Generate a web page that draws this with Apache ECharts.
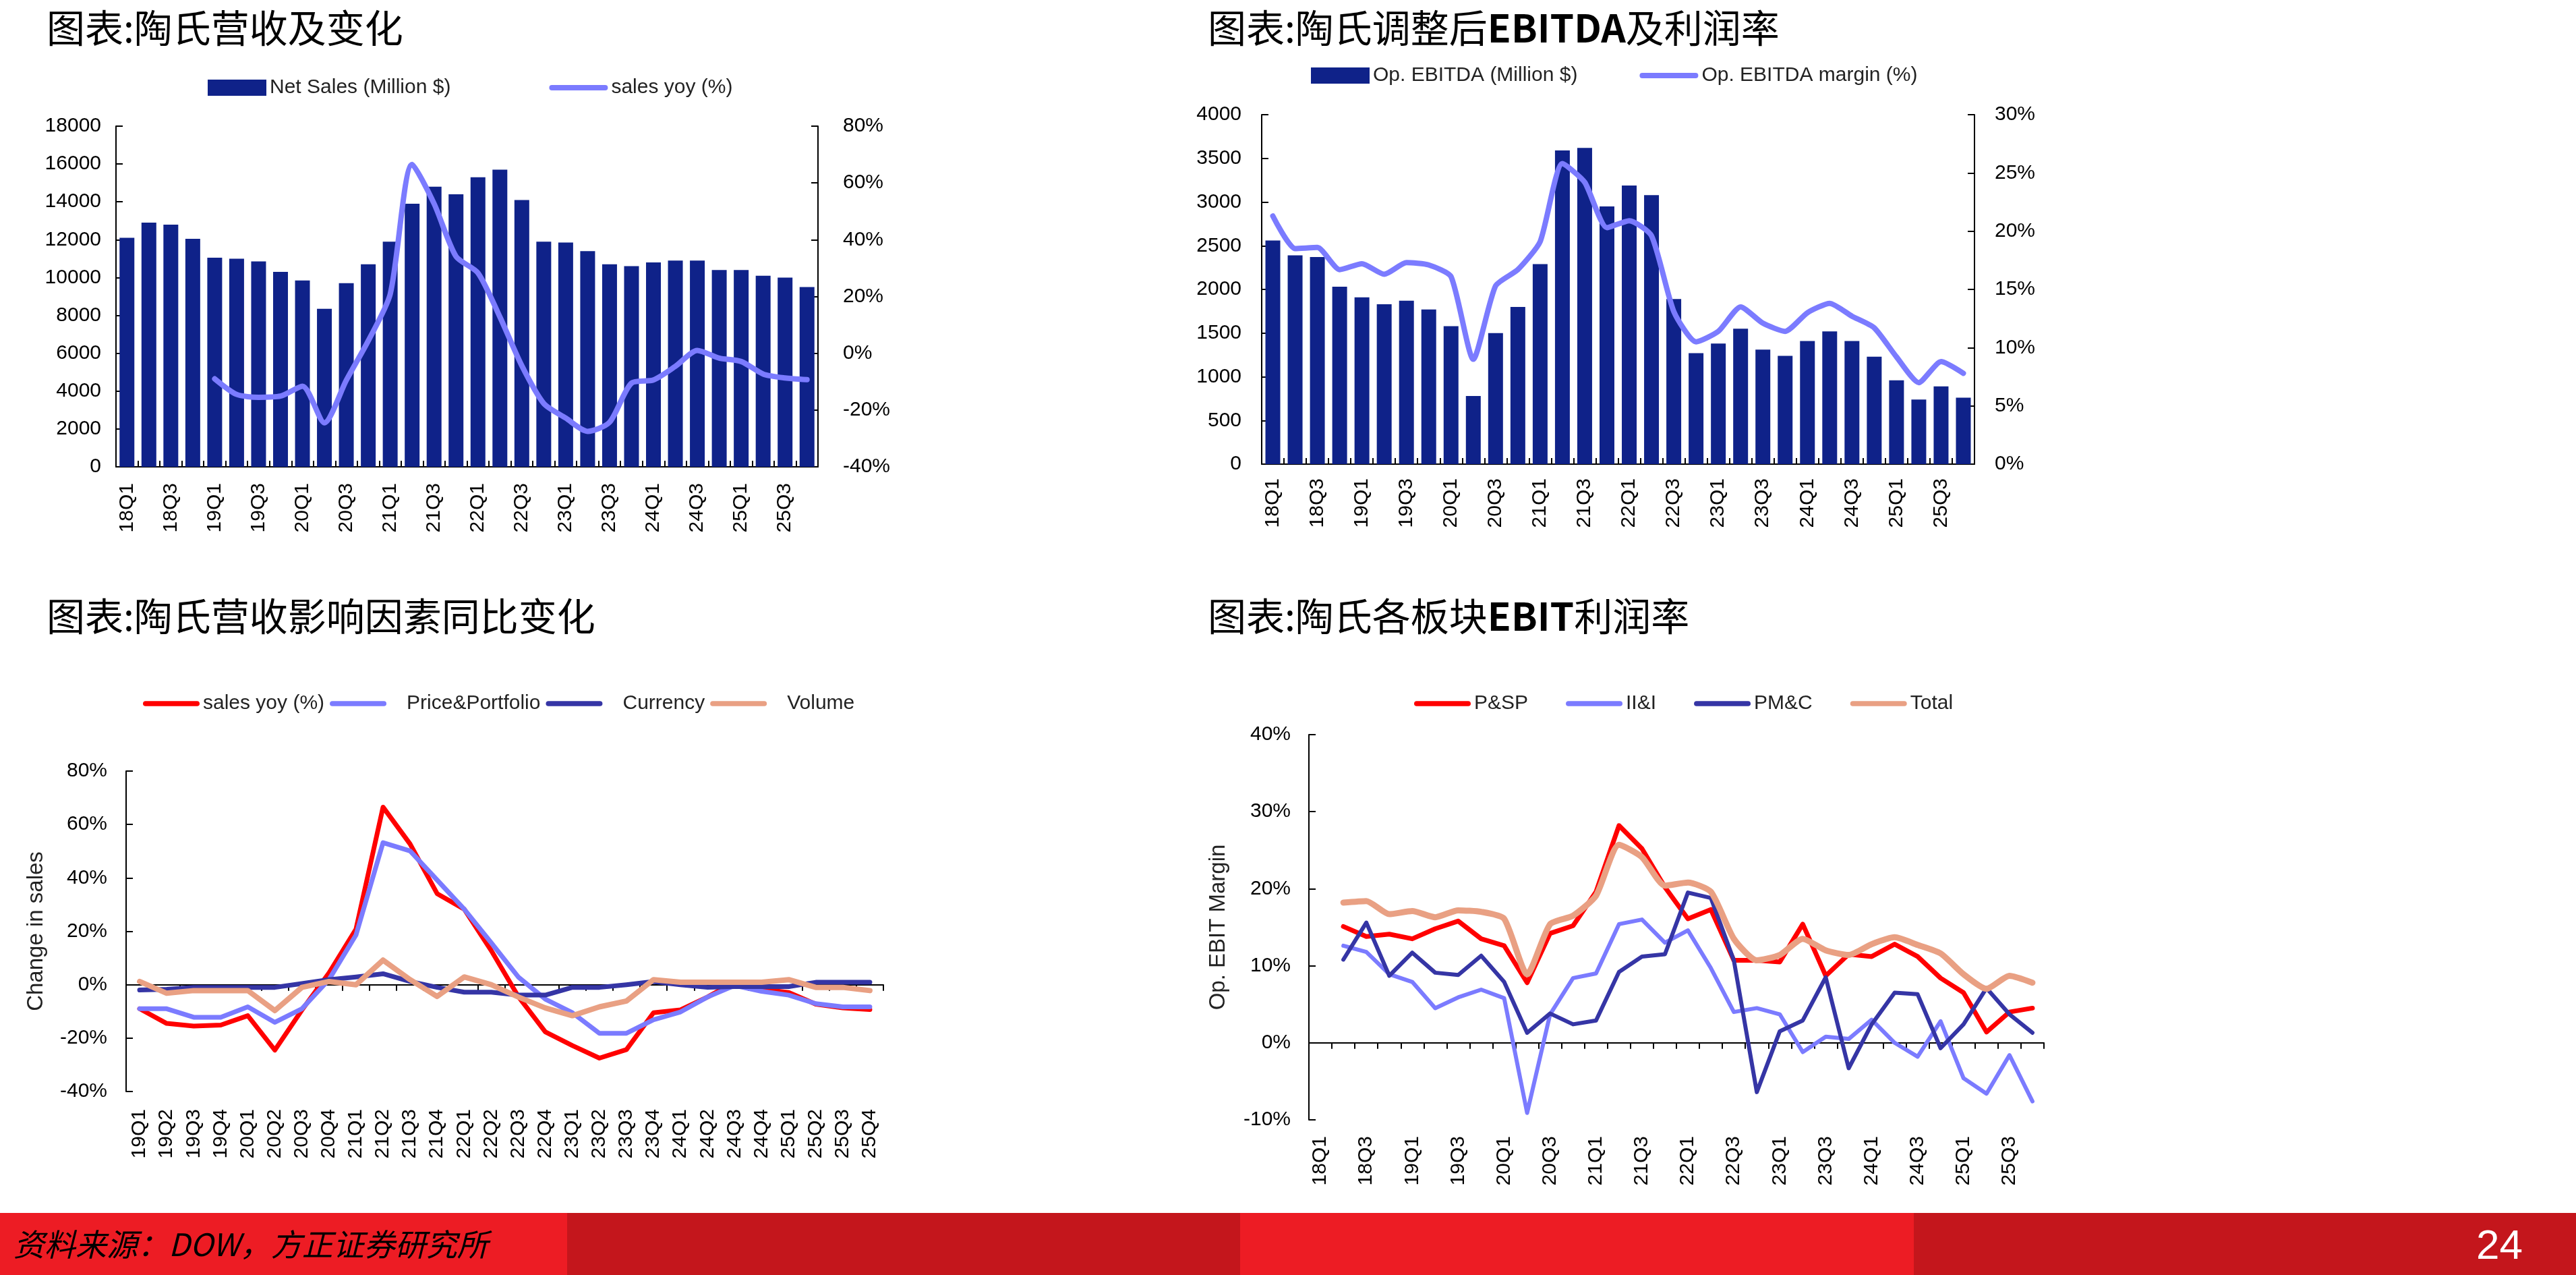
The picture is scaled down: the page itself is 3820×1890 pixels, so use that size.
<!DOCTYPE html>
<html>
<head>
<meta charset="utf-8">
<script src="https://cdn.jsdelivr.net/npm/echarts@6.0.0/dist/echarts.min.js"></script>
<style>
  html, body { margin: 0; padding: 0; background: #fff; }
  #main { width: 3820px; height: 1890px; }
</style>
</head>
<body>
<div id="main"></div>
<script>
// categories
const quarters = ['18Q1','18Q2','18Q3','18Q4','19Q1','19Q2','19Q3','19Q4',
  '20Q1','20Q2','20Q3','20Q4','21Q1','21Q2','21Q3','21Q4',
  '22Q1','22Q2','22Q3','22Q4','23Q1','23Q2','23Q3','23Q4',
  '24Q1','24Q2','24Q3','24Q4','25Q1','25Q2','25Q3','25Q4'];
const quarters19 = ['19Q1','19Q2','19Q3','19Q4','20Q1','20Q2','20Q3','20Q4',
  '21Q1','21Q2','21Q3','21Q4','22Q1','22Q2','22Q3','22Q4',
  '23Q1','23Q2','23Q3','23Q4','24Q1','24Q2','24Q3','24Q4',
  '25Q1','25Q2','25Q3','25Q4'];

// chart 1: net sales (million $) and yoy (%)
const netSales = [12100,12900,12800,12050,11050,11000,10850,10300,9850,8350,9700,10700,
  11900,13900,14800,14400,15300,15700,14100,11900,11850,11400,10700,10600,
  10800,10900,10900,10400,10400,10100,10000,9500];
// yoy from 19Q1
const salesYoy = [-9.0,-14.5,-15.5,-15.1,-11.6,-24.5,-9.5,4.4,20.8,66.5,52.7,34.1,
  28.3,12.8,-4.4,-17.7,-22.8,-27.5,-24.3,-10.5,-9.4,-4.6,1.0,-1.7,-2.9,-7.3,-8.7,-9.3];

// chart 2: op. EBITDA and margin
const ebitda = [2560,2390,2370,2030,1910,1830,1870,1770,1580,780,1500,1800,
  2290,3590,3620,2950,3190,3080,1890,1270,1380,1550,1310,1240,
  1410,1520,1410,1230,960,740,890,760];
const ebitdaMargin = [21.3,18.5,18.6,16.7,17.2,16.3,17.3,17.1,16.1,9.0,15.3,16.7,
  19.1,25.8,24.2,20.3,20.9,19.6,13.1,10.5,11.4,13.5,12.1,11.4,
  13.0,13.8,12.7,11.7,9.2,7.0,8.8,7.8];

// chart 3: drivers of sales change (%), 19Q1-25Q4
const pricePortfolio = [-9.0,-9.0,-12.2,-12.2,-8.3,-14.1,-9.0,1.9,18.6,53.2,50.1,39.2,
  28.3,15.7,2.9,-5.4,-10.5,-18.2,-18.2,-13.1,-10.2,-4.6,-0.3,-2.5,-3.9,-7.1,-8.3,-8.3];
const currency = [-2.0,-1.7,-1.0,-1.0,-1.0,-1.0,0.4,1.9,2.9,4.1,1.2,-1.0,
  -2.8,-2.8,-3.9,-3.9,-1.0,-1.0,0,1.2,0,-1.0,-0.7,-0.7,-0.7,0.9,0.9,0.9];
const volume = [1.2,-3.2,-2.2,-2.2,-2.2,-9.7,-1.0,1.2,0,9.2,1.9,-4.4,
  2.9,0,-4.6,-8.7,-11.6,-8.3,-6.1,1.9,0.9,0.9,0.9,0.9,1.9,-1.0,-1.0,-2.2];

// chart 4: segment EBIT margin (%)
const pssp = [null,15.1,13.8,14.1,13.5,14.8,15.8,13.5,12.6,7.8,14.2,15.2,
  19.6,28.2,25.2,20.2,16.1,17.3,10.7,10.7,10.5,15.4,8.7,11.5,
  11.2,12.8,11.2,8.4,6.5,1.4,4.0,4.5];
const iii = [null,12.6,11.8,8.9,7.9,4.5,5.9,6.9,5.8,-9.1,3.7,8.4,
  9.0,15.4,16.0,13.0,14.6,9.7,4.0,4.5,3.7,-1.2,0.8,0.5,
  3.0,0,-1.8,2.8,-4.6,-6.6,-1.6,-7.6];
const pmc = [null,10.8,15.6,8.7,11.7,9.1,8.8,11.3,7.9,1.3,3.8,2.4,
  2.9,9.2,11.2,11.5,19.5,18.8,10.7,-6.4,1.5,2.9,8.5,-3.3,
  2.4,6.5,6.3,-0.7,2.4,7.1,3.7,1.3];
const total = [null,18.2,18.4,16.7,17.1,16.3,17.2,17.0,16.1,8.9,15.4,16.5,
  19.1,25.7,24.1,20.4,20.8,19.6,13.5,10.7,11.4,13.5,12.0,11.4,
  12.8,13.7,12.7,11.6,8.9,7.0,8.7,7.8];

const NAVY = '#0F2289';
const LAVENDER = '#7B7BFF';
const RED = '#FF0000';
const DARK = '#3535A5';
const SALMON = '#E9A083';

const FONT = 'Liberation Sans, Arial, sans-serif';
const CJK = 'Noto Sans CJK SC';
const lineIcon = 'path://M4,0H84A4,4,0,0,1,84,8H4A4,4,0,0,1,4,0Z';

const chart = echarts.init(document.getElementById('main'));

const axisLine = { show: true, onZero: false, lineStyle: { color: '#000', width: 2 } };
const tickIn = { show: true, inside: true, length: 10, lineStyle: { color: '#000', width: 2 } };
const lab = { color: '#000', fontSize: 30, fontFamily: FONT };
const plain = function (v) { return String(v); };
const pct = function (v) { return v + '%'; };

function catAxis(grid, data, every, extra) {
  return Object.assign({
    type: 'category', gridIndex: grid, data: data, boundaryGap: true,
    axisLine: axisLine,
    axisTick: Object.assign({}, tickIn, { interval: 0, length: 9 }),
    axisLabel: Object.assign({}, lab, { rotate: 90, interval: every, margin: 24 }),
    splitLine: { show: false }
  }, extra || {});
}

function valAxis(grid, min, max, step, isPct, margin, extra) {
  return Object.assign({
    type: 'value', gridIndex: grid, min: min, max: max, interval: step,
    axisLine: axisLine, axisTick: tickIn,
    axisLabel: Object.assign({}, lab, { margin: margin, formatter: isPct ? pct : plain }),
    splitLine: { show: false }
  }, extra || {});
}

function line(name, data, color, width, xi, yi, smooth) {
  return {
    name: name, type: 'line', data: data, xAxisIndex: xi, yAxisIndex: yi,
    color: color, symbol: 'none', smooth: smooth || false, connectNulls: false,
    lineStyle: { color: color, width: width, cap: 'round', join: 'round' },
    z: 3
  };
}

const legendText = { color: '#222', fontSize: 30, fontFamily: FONT, lineHeight: 34 };
const titleStyle = { fontFamily: CJK, fontSize: 57, fontWeight: 'normal', color: '#000',
  rich: { b: { fontFamily: CJK, fontSize: 57, fontWeight: 'bold', color: '#000' } } };

const option = {
  backgroundColor: '#fff',
  animation: false,
  title: [
    { text: '图表:陶氏营收及变化', left: 64, top: 8, textStyle: titleStyle },
    { text: '图表:陶氏调整后{b|EBITDA}及利润率', left: 1786, top: 8, textStyle: titleStyle },
    { text: '图表:陶氏营收影响因素同比变化', left: 64, top: 880, textStyle: titleStyle },
    { text: '图表:陶氏各板块{b|EBIT}利润率', left: 1786, top: 880, textStyle: titleStyle }
  ],
  legend: [
    { left: 303, top: 108, itemWidth: 87, itemHeight: 24, itemGap: 146,
      itemStyle: { borderWidth: 0 }, textStyle: legendText, selectedMode: false,
      data: [{ name: 'Net Sales (Million $)', icon: 'rect' }, { name: 'sales yoy (%)', icon: lineIcon }] },
    { left: 1939, top: 90, itemWidth: 87, itemHeight: 24, itemGap: 92,
      itemStyle: { borderWidth: 0 }, textStyle: legendText, selectedMode: false,
      data: [{ name: 'Op. EBITDA (Million $)', icon: 'rect' }, { name: 'Op. EBITDA margin (%)', icon: lineIcon }] },
    { left: 207, top: 1021, itemWidth: 84, itemHeight: 24, itemGap: 8,
      itemStyle: { borderWidth: 0 }, textStyle: legendText, selectedMode: false, icon: lineIcon,
      formatter: function (n) { return n === 'sales yoy (%) ' ? 'sales yoy (%)' : '   ' + n; },
      data: ['sales yoy (%) ', 'Price&Portfolio', 'Currency', 'Volume'] },
    { left: 2092, top: 1021, itemWidth: 84, itemHeight: 24, itemGap: 56,
      itemStyle: { borderWidth: 0 }, textStyle: legendText, selectedMode: false, icon: lineIcon,
      data: ['P&SP', 'II&I', 'PM&C', 'Total'] }
  ],
  grid: [
    { left: 172, top: 187, width: 1041, height: 505 },
    { left: 1871, top: 170, width: 1057, height: 518 },
    { left: 187, top: 1143, width: 1123, height: 475 },
    { left: 1941, top: 1089, width: 1090, height: 571 }
  ],
  xAxis: [
    catAxis(0, quarters, 1),
    catAxis(1, quarters, 1, { axisLabel: Object.assign({}, lab, { rotate: 90, interval: 1, margin: 21 }) }),
    // chart 3: labels at bottom, line on zero
    catAxis(2, quarters19, 0, { axisLine: { show: false, onZero: false }, axisTick: { show: false },
      axisLabel: Object.assign({}, lab, { rotate: 90, interval: 0, margin: 26 }) }),
    catAxis(2, quarters19, 0, { axisLine: { show: true, onZero: true, lineStyle: { color: '#000', width: 2 } },
      axisLabel: { show: false } }),
    // chart 4
    catAxis(3, quarters, 1, { axisLine: { show: false, onZero: false }, axisTick: { show: false } }),
    catAxis(3, quarters, 1, { axisLine: { show: true, onZero: true, lineStyle: { color: '#000', width: 2 } },
      axisLabel: { show: false } })
  ],
  yAxis: [
    valAxis(0, 0, 18000, 2000, false, 22),
    valAxis(0, -40, 80, 20, true, 37, { position: 'right' }),
    valAxis(1, 0, 4000, 500, false, 30),
    valAxis(1, 0, 30, 5, true, 30, { position: 'right' }),
    valAxis(2, -40, 80, 20, true, 28, { name: 'Change in sales', nameLocation: 'middle', nameGap: 117, nameRotate: 90,
      nameTextStyle: { color: '#222', fontSize: 33, fontFamily: FONT } }),
    valAxis(3, -10, 40, 10, true, 27, { name: 'Op. EBIT Margin', nameLocation: 'middle', nameGap: 118, nameRotate: 90,
      nameTextStyle: { color: '#222', fontSize: 33, fontFamily: FONT } })
  ],
  series: [
    { name: 'Net Sales (Million $)', type: 'bar', data: netSales, xAxisIndex: 0, yAxisIndex: 0,
      color: NAVY, barWidth: 22, itemStyle: { color: NAVY } },
    line('sales yoy (%)', [null, null, null, null].concat(salesYoy), LAVENDER, 8, 0, 1, 0.25),

    { name: 'Op. EBITDA (Million $)', type: 'bar', data: ebitda, xAxisIndex: 1, yAxisIndex: 2,
      color: NAVY, barWidth: 22, itemStyle: { color: NAVY } },
    line('Op. EBITDA margin (%)', ebitdaMargin, LAVENDER, 8, 1, 3, 0.2),

    line('sales yoy (%) ', salesYoy, RED, 7, 2, 4),
    line('Price&Portfolio', pricePortfolio, LAVENDER, 7, 2, 4),
    line('Currency', currency, DARK, 7, 2, 4),
    line('Volume', volume, SALMON, 8, 2, 4),

    line('P&SP', pssp, RED, 7, 4, 5),
    line('II&I', iii, LAVENDER, 6, 4, 5),
    line('PM&C', pmc, DARK, 6, 4, 5),
    line('Total', total, SALMON, 9, 4, 5, 0.2)
  ],
  graphic: [
    { type: 'rect', shape: { x: 0, y: 1798, width: 841, height: 92 }, style: { fill: '#ED1C24' } },
    { type: 'rect', shape: { x: 841, y: 1798, width: 998, height: 92 }, style: { fill: '#C4161C' } },
    { type: 'rect', shape: { x: 1839, y: 1798, width: 999, height: 92 }, style: { fill: '#ED1C24' } },
    { type: 'rect', shape: { x: 2838, y: 1798, width: 982, height: 92 }, style: { fill: '#C4161C' } },
    { type: 'text', left: 20, top: 1822,
      style: { text: '资料来源：DOW，方正证券研究所', fill: '#000',
        font: 'italic 46px "Noto Sans CJK SC"' } },
    { type: 'text', left: 3672, top: 1818,
      style: { text: '24', fill: '#fff', font: '62px "Liberation Sans Narrow", "Liberation Sans", Arial' } }
  ]
};

chart.setOption(option);
</script>
</body>
</html>
